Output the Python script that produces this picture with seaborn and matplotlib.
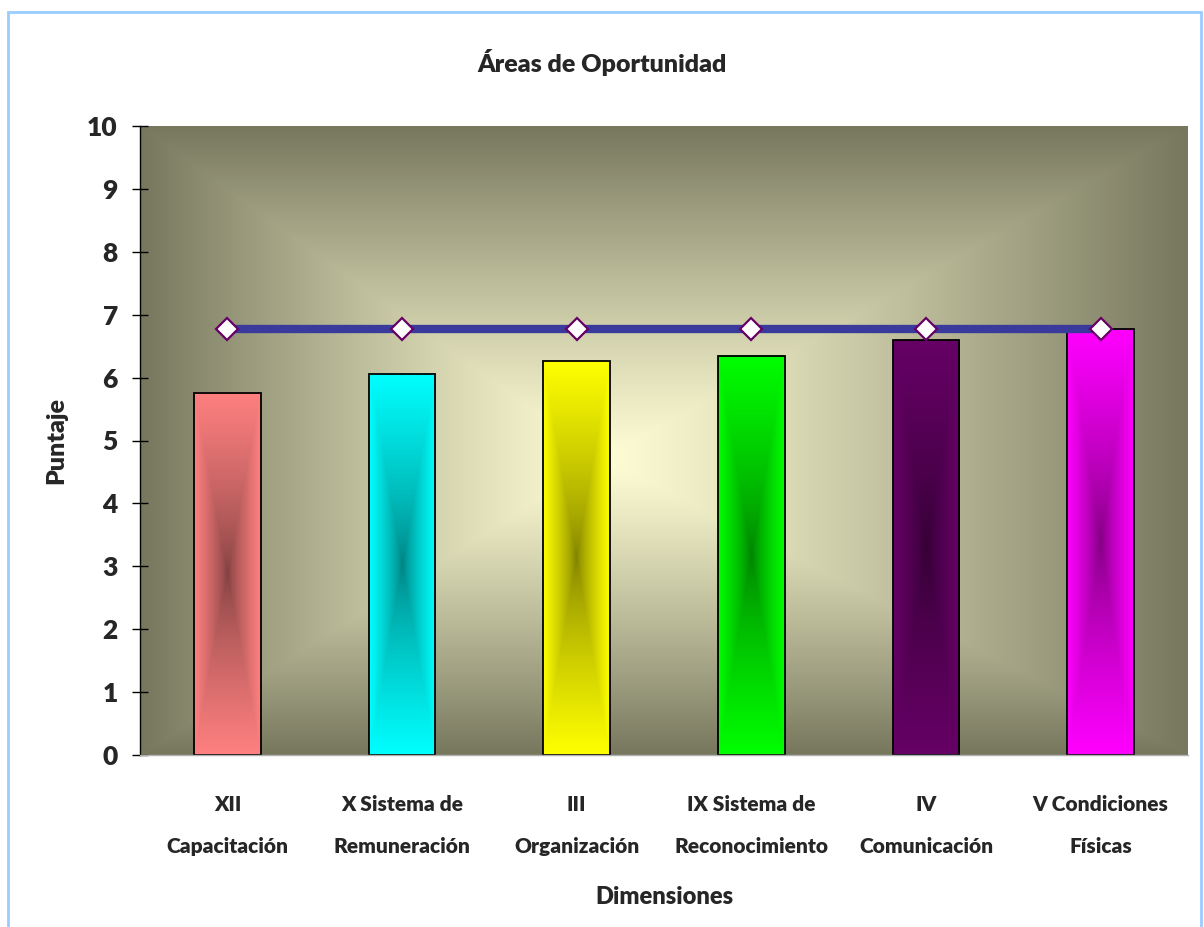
import numpy as np
import pandas as pd
import matplotlib
matplotlib.use("Agg")
import matplotlib.pyplot as plt
from matplotlib.patches import Rectangle
from matplotlib.colors import to_rgb
import seaborn as sns

# ---- data ----
categories = [
    "XII\nCapacitación",
    "X Sistema de\nRemuneración",
    "III\nOrganización",
    "IX Sistema de\nReconocimiento",
    "IV\nComunicación",
    "V Condiciones\nFísicas",
]
scores = [5.76, 6.06, 6.26, 6.35, 6.59, 6.77]
reference_line = [6.78, 6.78, 6.78, 6.78, 6.78, 6.78]
bar_colors = ["#ff8080", "#00ffff", "#ffff00", "#00ff00", "#660066", "#ff00ff"]
y_ticks = [0, 1, 2, 3, 4, 5, 6, 7, 8, 9, 10]

df = pd.DataFrame({"Dimension": categories, "Puntaje": scores, "Linea": reference_line})

sns.set_theme(style="white")
plt.rcParams["font.family"] = ["Lato", "DejaVu Sans"]
plt.rcParams["font.weight"] = "heavy"

W, H = 1204, 927
fig = plt.figure(figsize=(W / 100, H / 100), dpi=100)
fig.patch.set_facecolor("white")

# outer light-blue frame
fig.add_artist(Rectangle((8 / W, -0.05), (1201 - 8) / W, (H - 12) / H + 0.05,
                         transform=fig.transFigure, fill=False,
                         edgecolor="#99ccff", linewidth=2))

ax = fig.add_axes([140 / W, (H - 755) / H, 1048 / W, 629 / H])

# plot-area background: rectangular gradient from a light centre to olive edges
light = np.array(to_rgb("#fefdd4"))
dark = np.array(to_rgb("#77775e"))
cx, cy = 0.44, 0.47
u = np.linspace(0, 1, 600)
v = np.linspace(0, 1, 400)
U, V = np.meshgrid(u, v)
tx = np.where(U < cx, (cx - U) / cx, (U - cx) / (1 - cx))
ty = np.where(V < cy, (cy - V) / cy, (V - cy) / (1 - cy))
t = np.clip(np.maximum(tx, ty), 0, 1) ** 1.15
bg = light + (dark - light) * t[..., None]
ax.imshow(bg, extent=[-0.5, 5.5, 0, 10], origin="lower", aspect="auto",
          zorder=0, interpolation="bilinear")

# bars
sns.barplot(data=df, x="Dimension", y="Puntaje", hue="Dimension",
            palette=bar_colors, width=0.38, edgecolor="black", linewidth=1.3,
            legend=False, ax=ax, zorder=2)

# gradient fill inside each bar: darker core, full colour at edges
for patch, col in zip(ax.patches, bar_colors):
    x0, y0 = patch.get_x(), patch.get_y()
    bw, bh = patch.get_width(), patch.get_height()
    base = np.array(to_rgb(col))
    core = base * 0.5
    gx = np.linspace(-1, 1, 80)
    gy = np.linspace(-1, 1, 400)
    GX, GY = np.meshgrid(gx, gy)
    g = np.maximum(np.abs(GX), np.abs(GY)) ** 0.75
    img = core + (base - core) * g[..., None]
    ax.imshow(img, extent=[x0, x0 + bw, y0, y0 + bh], origin="lower",
              aspect="auto", zorder=2.1, interpolation="bilinear")
    patch.set_facecolor("none")
    patch.set_zorder(2.2)

# reference line with diamond markers
sns.lineplot(data=df, x="Dimension", y="Linea", ax=ax, color="#3a3a9c",
             linewidth=6, marker="D", markersize=11.5,
             markerfacecolor="white", markeredgecolor="#660066",
             markeredgewidth=1.6, zorder=4, sort=False)

ax.set_xlim(-0.5, 5.5)
ax.set_ylim(0, 10)
ax.set_yticks(y_ticks)
ax.set_yticklabels([str(v) for v in y_ticks], fontsize=19, fontweight="heavy")
ax.set_xticks(range(len(categories)))
ax.set_xticklabels(categories, fontsize=15, fontweight="heavy", linespacing=2.4)
ax.set_xticks(np.arange(-0.5, 6, 1.0), minor=True)
ax.tick_params(axis="x", which="major", length=0, pad=29)
ax.tick_params(axis="x", which="minor", direction="inout", length=14,
               width=1, color="black")
ax.tick_params(axis="y", which="major", direction="inout", length=12,
               width=1, color="black", pad=10, left=True)
ax.grid(False)

for side in ("top", "right"):
    ax.spines[side].set_visible(False)
ax.spines["left"].set_color("black")
ax.spines["left"].set_linewidth(1)
ax.spines["bottom"].set_color("#b0b0b0")
ax.spines["bottom"].set_linewidth(1)

ax.set_xlabel("Dimensiones", fontsize=17, fontweight="heavy", labelpad=22)
ax.set_ylabel("Puntaje", fontsize=18, fontweight="heavy", labelpad=14)

fig.text(602 / W, 1 - 63 / H, "Áreas de Oportunidad", ha="center",
         va="center", fontsize=18, fontweight="heavy")

fig.savefig("out.png", dpi=100, facecolor="white")
